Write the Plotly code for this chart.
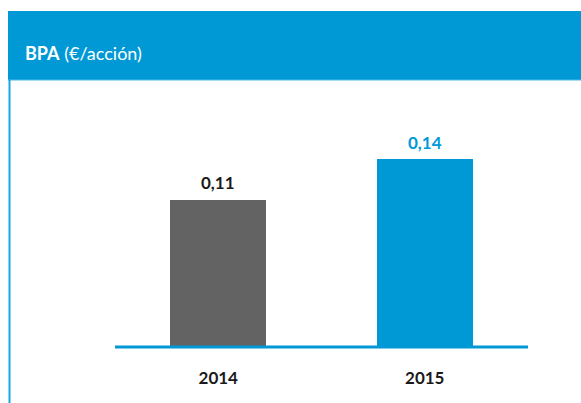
import plotly.graph_objects as go

# === Data ===
years = ['2014', '2015']
bpa = [0.11, 0.14]
bar_colors = ['#636363', '#0099d6']
label_colors = ['#1a1a1a', '#0099d6']
title_bold = 'BPA'
title_unit = '(€/acción)'

BLUE = '#0099d6'
W, H = 581, 403
L, R, T, B = 115, 53, 90, 50  # plot area margins in px
PX_PER_UNIT = 1340

def px_x(x):
    return (x - L) / (W - L - R)

def px_y(y):
    return (H - B - y) / (H - T - B)

y0 = -6 / PX_PER_UNIT
y1 = y0 + (H - T - B) / PX_PER_UNIT

fig = go.Figure()

fig.add_trace(go.Bar(
    x=years, y=bpa,
    marker=dict(color=bar_colors, line=dict(width=0)),
    width=0.465,
    hoverinfo='skip',
))

# value labels above the bars (category index as x)
for i, (v, c) in enumerate(zip(bpa, label_colors)):
    fig.add_annotation(
        x=i, y=v, text=f"<b>{v:.2f}".replace('.', ',') + "</b>",
        showarrow=False, yshift=17, yanchor='middle',
        font=dict(family='Lato', size=17, color=c),
    )

# header band
fig.add_shape(type='rect', xref='paper', yref='paper',
              x0=px_x(8), x1=px_x(W + 2), y0=px_y(80), y1=px_y(11),
              fillcolor=BLUE, line=dict(width=0), layer='below')
fig.add_shape(type='line', xref='paper', yref='paper',
              x0=px_x(8), x1=px_x(W + 2), y0=px_y(80), y1=px_y(80),
              line=dict(color='#4db8e8', width=1))
# left frame line
fig.add_shape(type='line', xref='paper', yref='paper',
              x0=px_x(9.5), x1=px_x(9.5), y0=px_y(80), y1=px_y(H + 2),
              line=dict(color='#1aa6e4', width=2))
# baseline
fig.add_shape(type='line', xref='paper', yref='y',
              x0=0, x1=1, y0=0, y1=0,
              line=dict(color=BLUE, width=3))

fig.add_annotation(
    xref='paper', yref='paper', x=px_x(23), y=px_y(53),
    xanchor='left', yanchor='middle', showarrow=False,
    text=f"<b>{title_bold}</b> {title_unit}",
    font=dict(family='Lato', size=18, color='white'),
)

fig.update_layout(
    width=W, height=H,
    margin=dict(l=L, r=R, t=T, b=B),
    paper_bgcolor='white', plot_bgcolor='white',
    showlegend=False,
    bargap=0,
)
fig.update_xaxes(
    type='category', range=[-0.5, 1.5],
    showgrid=False, zeroline=False, showline=False,
    ticks='', ticklabelstandoff=13,
    tickfont=dict(family='Lato', size=17, color='#1a1a1a', weight='bold'),
    fixedrange=True,
)
fig.update_yaxes(
    range=[y0, y1], visible=False, showgrid=False, zeroline=False,
    fixedrange=True,
)

fig.write_html("out.html", config=dict(displayModeBar=False),
               post_script="document.body.style.margin='0';")
